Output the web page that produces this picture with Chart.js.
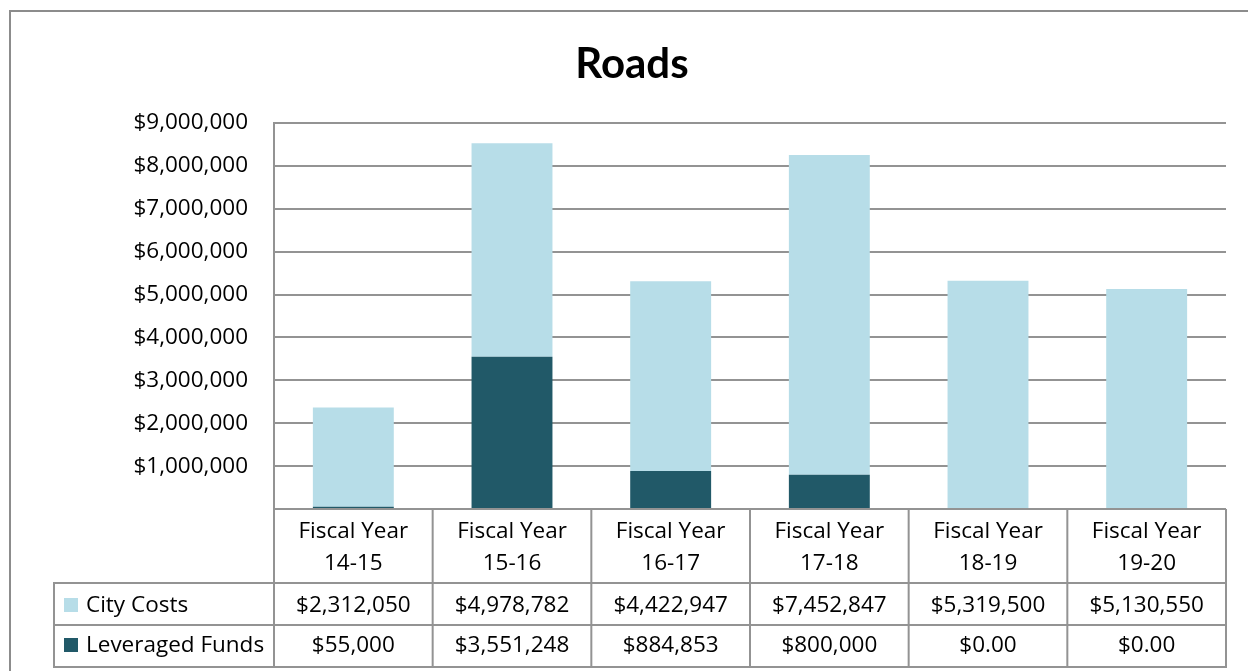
<!DOCTYPE html>
<html>
<head>
<meta charset="utf-8">
<script src="https://cdn.jsdelivr.net/npm/chart.js@4/dist/chart.umd.min.js"></script>
<style>
  html, body { margin: 0; padding: 0; background: #fff; overflow: hidden; }
  #wrap { position: relative; width: 1248px; height: 671px; }
</style>
</head>
<body>
<div id="wrap"><canvas id="c" width="1248" height="671"></canvas></div>
<script>
const chartTitle = 'Roads';
const categories = [
  ['Fiscal Year', '14-15'],
  ['Fiscal Year', '15-16'],
  ['Fiscal Year', '16-17'],
  ['Fiscal Year', '17-18'],
  ['Fiscal Year', '18-19'],
  ['Fiscal Year', '19-20']
];
const seriesNames = ['City Costs', 'Leveraged Funds'];
const cityCosts = [2312050, 4978782, 4422947, 7452847, 5319500, 5130550];
const leveragedFunds = [55000, 3551248, 884853, 800000, 0, 0];
const yMax = 9000000;
const yStep = 1000000;

const LIGHT = '#b7dde8';
const DARK = '#215968';
const LINE = '#939393';
const FONT = '"Open Sans", Lato, sans-serif';
const TITLE_FONT = 'Lato, "Open Sans", sans-serif';
const FS = 22.5;

function money(v) {
  return v === 0 ? '$0.00' : '$' + v.toLocaleString('en-US');
}

const frame = {
  id: 'frame',
  beforeDraw(chart) {
    const ctx = chart.ctx;
    ctx.save();
    ctx.fillStyle = '#fff';
    ctx.fillRect(0, 0, chart.width, chart.height);
    ctx.strokeStyle = '#8c8c8c';
    ctx.lineWidth = 2;
    ctx.beginPath();
    ctx.moveTo(10, chart.height + 5);
    ctx.lineTo(10, 11);
    ctx.lineTo(chart.width + 5, 11);
    ctx.stroke();
    ctx.fillStyle = '#000';
    ctx.font = 'bold 42px ' + TITLE_FONT;
    ctx.textAlign = 'center';
    ctx.textBaseline = 'alphabetic';
    ctx.fillText(chartTitle, 632, 78);
    ctx.restore();
  }
};

const dataTable = {
  id: 'dataTable',
  afterDraw(chart) {
    const ctx = chart.ctx;
    const xs = chart.scales.x;
    const area = chart.chartArea;
    const n = categories.length;
    const centers = categories.map((_, i) => xs.getPixelForValue(i));
    const bounds = [area.left];
    for (let i = 0; i < n - 1; i++) bounds.push((centers[i] + centers[i + 1]) / 2);
    bounds.push(area.right);

    const top = area.bottom;
    const headBottom = top + 74;
    const row1Bottom = headBottom + 42;
    const row2Bottom = row1Bottom + 42;
    const legendLeft = 54;

    ctx.save();
    ctx.strokeStyle = LINE;
    ctx.lineWidth = 2;
    ctx.beginPath();
    bounds.forEach(b => { ctx.moveTo(b, top); ctx.lineTo(b, row2Bottom); });
    ctx.moveTo(legendLeft, headBottom); ctx.lineTo(legendLeft, row2Bottom);
    [headBottom, row1Bottom, row2Bottom].forEach(y => {
      ctx.moveTo(legendLeft - 1, y); ctx.lineTo(area.right + 1, y);
    });
    ctx.stroke();

    ctx.fillStyle = '#000';
    ctx.font = FS + 'px ' + FONT;
    ctx.textAlign = 'center';
    ctx.textBaseline = 'alphabetic';
    categories.forEach((lab, i) => {
      ctx.fillText(lab[0], centers[i], top + 29);
      ctx.fillText(lab[1], centers[i], top + 61);
      ctx.fillText(money(cityCosts[i]), centers[i], headBottom + 29);
      ctx.fillText(money(leveragedFunds[i]), centers[i], row1Bottom + 27);
    });

    const rows = [
      { name: seriesNames[0], color: LIGHT, base: headBottom + 29 },
      { name: seriesNames[1], color: DARK, base: row1Bottom + 27 }
    ];
    ctx.textAlign = 'left';
    rows.forEach(r => {
      ctx.fillStyle = r.color;
      ctx.fillRect(64, r.base - 14, 14, 14);
      ctx.fillStyle = '#000';
      ctx.fillText(r.name, 86, r.base);
    });
    ctx.restore();
  }
};

function build() {
  new Chart(document.getElementById('c'), {
    type: 'bar',
    data: {
      labels: categories,
      datasets: [
        { label: seriesNames[1], data: leveragedFunds, backgroundColor: DARK, borderWidth: 0 },
        { label: seriesNames[0], data: cityCosts, backgroundColor: LIGHT, borderWidth: 0 }
      ]
    },
    options: {
      responsive: false,
      animation: false,
      devicePixelRatio: 1,
      layout: { padding: { left: 0, right: 22, top: 123, bottom: 162 } },
      datasets: { bar: { barPercentage: 0.51, categoryPercentage: 1 } },
      plugins: {
        legend: { display: false },
        title: { display: false },
        tooltip: { enabled: false }
      },
      scales: {
        x: {
          stacked: true,
          display: false
        },
        y: {
          stacked: true,
          min: 0,
          max: yMax,
          afterFit(scale) { scale.width = 274; },
          grid: { color: LINE, lineWidth: 2, drawTicks: false },
          border: { display: true, color: LINE, width: 2 },
          ticks: {
            stepSize: yStep,
            padding: 26,
            color: '#000',
            font: { family: FONT, size: FS },
            callback: v => v === 0 ? '' : '$' + Number(v).toLocaleString('en-US')
          }
        }
      }
    },
    plugins: [frame, dataTable]
  });
}

if (document.fonts && document.fonts.load) {
  Promise.all([
    document.fonts.load(FS + 'px "Open Sans"'),
    document.fonts.load('bold 42px Lato')
  ]).then(build, build);
} else {
  build();
}
</script>
</body>
</html>
